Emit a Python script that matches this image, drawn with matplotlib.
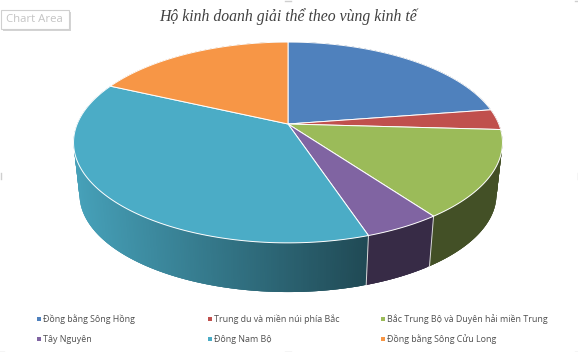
import numpy as np
import matplotlib
matplotlib.use('Agg')
from matplotlib import pyplot as plt
from matplotlib.patches import Rectangle

title = 'Hộ kinh doanh giải thể theo vùng kinh tế'
regions = ['Đồng bằng Sông Hồng', 'Trung du và miền núi phía Bắc',
           'Bắc Trung Bộ và Duyên hải miền Trung', 'Tây Nguyên',
           'Đông Nam Bộ', 'Đồng bằng Sông Cửu Long']
shares = [22.6, 3.3, 14.1, 4.9, 37.0, 18.1]
colors = ['#4F81BD', '#C0504D', '#9BBB59', '#8064A2', '#4BACC6', '#F79646']

W, H = 578, 352
CX, CY = 288, 124      # where the slices meet
CY_LOW = 176.5         # same point on the underside
A, B, P = 210.8, 97, 0.184   # tilt + perspective of the disc
LOW_SCALE = 0.972


def project(theta, low=False):
    # theta clockwise from 12 o'clock, radians
    d = 1 + P * np.cos(theta)
    x = A * np.sin(theta) / d
    y = B * np.cos(theta) / d
    if low:
        return CX + LOW_SCALE * x, CY_LOW - LOW_SCALE * y
    return CX + x, CY - y


def side_color(base, x):
    # side walls get lighter towards the left
    t = np.clip((368 - x) / 291, 0, 1)
    rgb = np.array(matplotlib.colors.to_rgb(base))
    return tuple(rgb * (0.43 + 0.50 * t))


fig = plt.figure(figsize=(W / 100, H / 100), dpi=100)
ax = fig.add_axes([0, 0, 1, 1])
ax.set_xlim(0, W)
ax.set_ylim(H, 0)
ax.axis('off')

edges = np.radians(np.cumsum([0] + shares) / sum(shares) * 360)

# side walls first, each strip overlaps the next one so no seams show
for i, color in enumerate(colors):
    th = np.linspace(edges[i], edges[i + 1], max(int((edges[i + 1] - edges[i]) * 120), 2))
    step = th[1] - th[0]
    for t0 in th[:-1]:
        t1 = min(t0 + 3 * step, edges[i + 1])
        seg = np.linspace(t0, t1, 5)
        xt, yt = project(seg)
        xb, yb = project(seg, low=True)
        c = side_color(color, xt[0])
        ax.fill(np.r_[xt, xb[::-1]], np.r_[yt, yb[::-1]], facecolor=c, edgecolor='none',
                lw=0, zorder=2)

# slice borders on the wall
for t in edges[3:5]:
    x0, y0 = project(t)
    x1, y1 = project(t, low=True)
    ax.plot([x0, x1], [y0, y1], color='#d9d9d9', lw=0.7, zorder=3)

# top face
for i, color in enumerate(colors):
    th = np.linspace(edges[i], edges[i + 1], 120)
    x, y = project(th)
    ax.fill(np.r_[CX, x], np.r_[CY, y], facecolor=color, edgecolor='white', lw=0.7,
            joinstyle='round', zorder=4)

ax.text(288.5, 17, title, family='Liberation Serif', style='italic', fontsize=11.3,
        color='#404040', ha='center', va='center')

# legend
legend_x = [37, 208, 381]
legend_y = [318.5, 339]
for i, (name, color) in enumerate(zip(regions, colors)):
    lx = legend_x[i % 3]
    ly = legend_y[i // 3]
    ax.add_patch(Rectangle((lx, ly - 2), 4, 4, facecolor=color, edgecolor='none'))
    ax.text(lx + 6, ly, name, family='Open Sans', fontsize=6.4, color='#505050',
            ha='left', va='center')

# "Chart Area" tooltip
ax.add_patch(Rectangle((3, 12), 68, 19, facecolor='#d4d4d4', edgecolor='none', zorder=5))
ax.add_patch(Rectangle((0.5, 9.5), 68, 19, facecolor='white', edgecolor='#d0d0d0', lw=0.8, zorder=6))
ax.text(6.5, 19.5, 'Chart Area', family='Open Sans', fontsize=8.2, color='#c4c4c4',
        ha='left', va='center', zorder=7)

# selection handles
for hx, hy, dx, dy in [(288, 0.5, 3, 0), (0.5, 176, 0, 3), (577.5, 176, 0, 3), (288, 351.5, 3, 0),
                       (0.5, 351.5, 3, 0), (577.5, 351.5, -3, 0), (577.5, 0.5, -3, 0)]:
    ax.plot([hx - dx, hx + dx], [hy - dy, hy + dy], color='#cfcfcf', lw=1)

fig.savefig('out.png', dpi=100)
